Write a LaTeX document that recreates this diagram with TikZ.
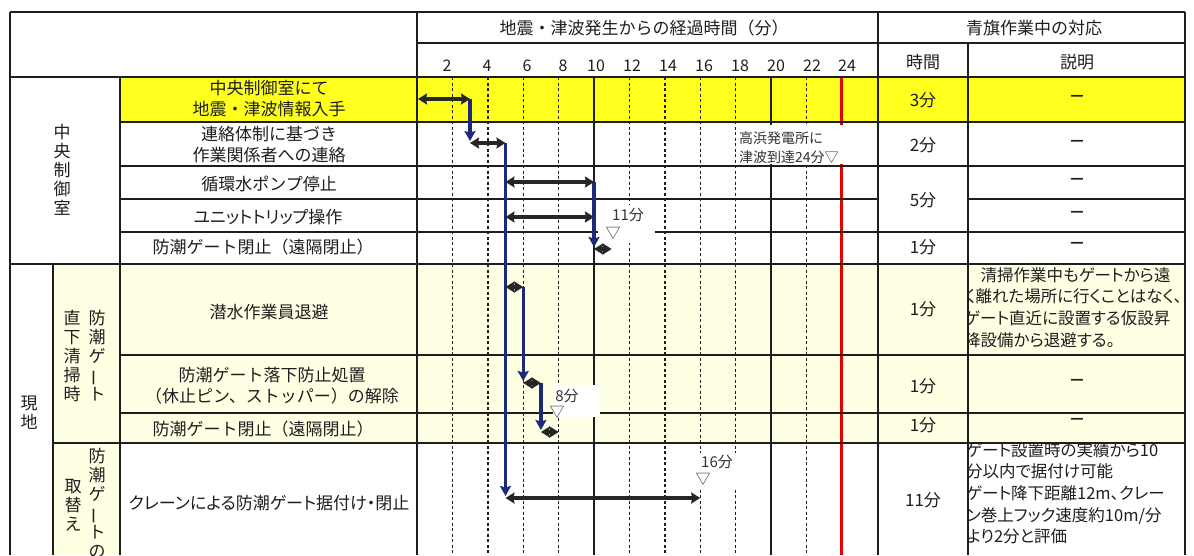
\documentclass[tikz,border=0pt]{standalone}
\usepackage{fontspec}
\setmainfont{Noto Sans CJK JP}
\newfontfamily\jpp{Noto Sans CJK JP}[RawFeature=+palt]
\usepackage{graphicx}
\usetikzlibrary{arrows.meta}
\definecolor{gridc}{RGB}{30,30,30}
\definecolor{navyc}{RGB}{30,42,120}
\definecolor{yel}{RGB}{255,255,30}
\definecolor{cream}{RGB}{255,255,228}
\definecolor{redc}{RGB}{230,0,0}
\definecolor{txt}{RGB}{30,30,30}
\newcommand\vbar{\rotatebox[origin=c]{90}{ー}}
\begin{document}
\begin{tikzpicture}[x=1pt,y=-1pt,
  gline/.style={line width=1.7pt,draw=gridc},
  dline/.style={line width=1.4pt,draw=gridc,dash pattern=on 3pt off 2.5pt},
  rline/.style={line width=2.8pt,draw=redc},
  bar/.style={line width=3.2pt,draw=black!85,{Stealth[length=9pt,width=11pt,inset=1pt]}-{Stealth[length=9pt,width=11pt,inset=1pt]}},
  link/.style={line width=3.2pt,draw=navyc,-{Stealth[length=10pt,width=11pt,inset=1.5pt]},shorten >=2pt},
  txtn/.style={inner sep=0pt,align=center,text=txt,font=\fontsize{17}{21}\selectfont},
  dashmark/.style={inner sep=0pt,text=txt,font=\fontsize{25}{25}\selectfont},
  tick/.style={inner sep=0pt,text=txt,font=\fontsize{16}{18}\selectfont},
  vtext/.style={inner sep=0pt,align=center,text=txt,font=\fontsize{17}{19}\selectfont},
  desc/.style={inner sep=0pt,align=left,anchor=north west,text=txt,font=\jpp\fontsize{16.5}{21.7}\selectfont},
  note/.style={inner sep=0pt,text=black!80,font=\jpp\fontsize{15}{18}\selectfont},
  smallnote/.style={inner sep=0pt,anchor=west,text=black!80,font=\jpp\fontsize{14}{18}\selectfont},
]
\useasboundingbox (0,0) rectangle (1194,555);
\fill[white] (0,0) rectangle (1194,555);
% backgrounds
\fill[yel] (120,77) rectangle (1185,122);
\fill[cream] (53,264) rectangle (1185,443);
\fill[cream] (53,443) rectangle (120,555);
% chart vertical lines
\foreach \t in {2,4,6,8,12,14,16,18,22} \draw[dline] ({417+17.7*\t},77) -- ({417+17.7*\t},555);
\foreach \t in {10,20} \draw[gline] ({417+17.7*\t},77) -- ({417+17.7*\t},555);
\draw[rline] ({417+17.7*24},77) -- ({417+17.7*24},555);
% horizontal lines
\draw[gline] (10,12) -- (1185,12);
\draw[gline] (417,43) -- (1185,43);
\draw[gline] (10,77) -- (1185,77);
\draw[gline] (120,122) -- (1185,122);
\draw[gline] (120,166) -- (1185,166);
\draw[gline] (120,199) -- (878,199);
\draw[gline] (968,199) -- (1185,199);
\draw[gline] (120,232) -- (1185,232);
\draw[gline] (10,264) -- (1185,264);
\draw[gline] (120,355) -- (1185,355);
\draw[gline] (120,413) -- (1185,413);
\draw[gline] (53,443) -- (1185,443);
% vertical table lines
\draw[gline] (10,12) -- (10,555);
\draw[gline] (53,264) -- (53,555);
\draw[gline] (120,77) -- (120,555);
\draw[gline] (417,12) -- (417,555);
\draw[gline] (878,12) -- (878,555);
\draw[gline] (968,43) -- (968,555);
\draw[gline] (1185,12) -- (1185,555);
% white label boxes
\fill[white] (739,125) rectangle (848,164);
\fill[white] (598,205) rectangle (655,243);
\fill[white] (553,385) rectangle (600,417);
\fill[white] (699,453) rectangle (745,489);
% header texts
\node[txtn] (hdr) at (644,28) {地震・津波発生からの経過時間（分）};
\node[txtn] (hdr2) at (1034,28) {青旗作業中の対応};
\node[txtn] (hjk) at (923,62) {時間};
\node[txtn] (hsm) at (1077,62) {説明};
\foreach \x/\l in {447/2,487/4,527/6,563/8,596/10,632/12,668/14,704/16,740/18,776/20,812/22,847/24}
  \node[tick] (tk\l) at (\x,66) {\l};
% left group labels
\node[vtext] (gc) at (62,170) {中\\央\\制\\御\\室};
\node[vtext] (gg) at (29,413) {現\\地};
\node[vtext] (gs1) at (97,356) {防\\潮\\ゲ\\\vbar\\ト};
\node[vtext] (gs2) at (72,356) {直\\下\\清\\掃\\時};
\node[vtext] (gt1) at (97,503) {防\\潮\\ゲ\\\vbar\\ト\\の};
\node[vtext] (gt2) at (73,505) {取\\替\\え};
% task texts
\node[txtn] (r1) at (269,99) {中央制御室にて\\地震・津波情報入手};
\node[txtn] (r2) at (269,145) {連絡体制に基づき\\作業関係者への連絡};
\node[txtn] (r3) at (269,184) {循環水ポンプ停止};
\node[txtn,font=\jpp\fontsize{17}{21}\selectfont] (r4) at (268,217) {ユニットトリップ操作};
\node[txtn] (r5) at (263,247) {防潮ゲート閉止（遠隔閉止）};
\node[txtn] (r6) at (269,312) {潜水作業員退避};
\node[txtn] (r7) at (272,386) {防潮ゲート落下防止処置\\（休止ピン、ストッパー）の解除};
\node[txtn] (r8) at (263,429) {防潮ゲート閉止（遠隔閉止）};
\node[txtn,font=\jpp\fontsize{17}{21}\selectfont] (r9) at (269,503) {クレーンによる防潮ゲート据付け・閉止};
% time column
\node[txtn] (t1) at (923,100) {3分};
\node[txtn] (t2) at (923,145) {2分};
\node[txtn] (t3) at (923,200) {5分};
\node[txtn] (t5) at (923,247) {1分};
\node[txtn] (t6) at (923,309) {1分};
\node[txtn] (t7) at (923,386) {1分};
\node[txtn] (t8) at (923,425) {1分};
\node[txtn] (t9) at (923,500) {11分};
% description column
\foreach \y/\n in {100/1,145/2,183/3,216/4,247/5,384/7,423/8}
  \node[dashmark] (d\n) at (1077,\y) {−};
\begin{scope}
\clip (969,264) rectangle (1184,355);
\node[desc] (d6) at (964,267) {　清掃作業中もゲートから遠\\く離れた場所に行くことはなく、\\ゲート直近に設置する仮設昇\\降設備から退避する。};
\end{scope}
\begin{scope}
\clip (969,443) rectangle (1184,555);
\node[desc] (d9) at (966,442) {ゲート設置時の実績から10\\分以内で据付け可能\\ゲート降下距離12m、クレー\\ン巻上フック速度約10m/分\\より2分と評価};
\end{scope}
% annotations
\node[smallnote] (nt1) at (739,138) {高浜発電所に};
\node[smallnote] (nt2) at (739,157) {津波到達24分▽};
\node[note] (n11) at (628,215) {11分};
\node[note] (n11m) at (613,233) {▽};
\node[note] (n8) at (567,396) {8分};
\node[note] (n8m) at (557,412) {▽};
\node[note] (n16) at (717,462) {16分};
\node[note] (n16m) at (703,479) {▽};
% arrow end points
\coordinate (b1s) at (418,99);   \coordinate (b1e) at (470,99);
\coordinate (b2s) at (470,143);  \coordinate (b2e) at (505.5,143);
\coordinate (b3s) at (505.5,182);\coordinate (b3e) at (594,182);
\coordinate (b4s) at (505.5,217);\coordinate (b4e) at (594,217);
\coordinate (b5s) at (594,249);  \coordinate (b5e) at (611.7,249);
\coordinate (b6s) at (505.5,287);\coordinate (b6e) at (523.2,287);
\coordinate (b7s) at (523.2,383);\coordinate (b7e) at (540.9,383);
\coordinate (b8s) at (540.9,432);\coordinate (b8e) at (558.6,432);
\coordinate (b9s) at (505.5,498);\coordinate (b9e) at (700.2,498);
% links
\draw[link] (b1e) -- (b2s);
\draw[link] (b2e) -- (b9s);
\draw[link] (b3e) -- (b5s);
\draw[link] (b6e) -- (b7s);
\draw[link] (b7e) -- (b8s);
% bars
\foreach \n in {1,...,9} \draw[bar] (b\n s) -- (b\n e);
\end{tikzpicture}
\end{document}
